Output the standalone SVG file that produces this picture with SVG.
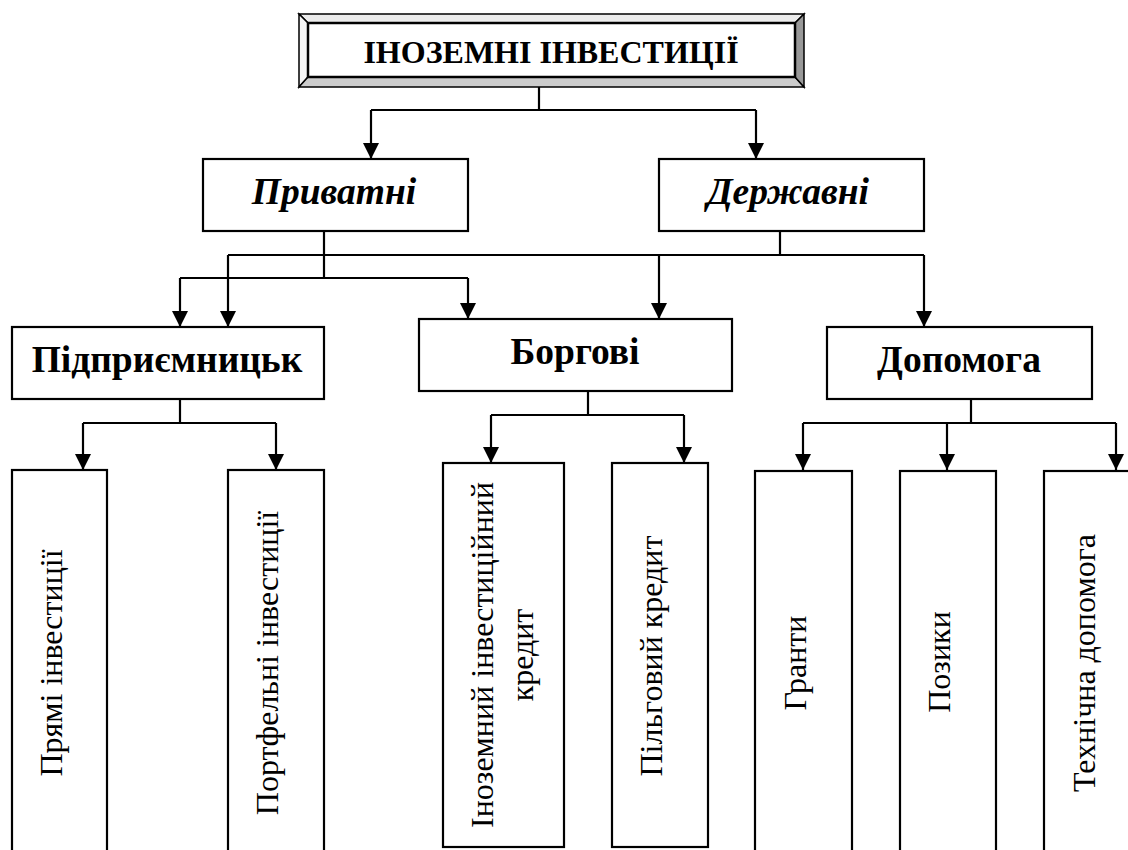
<svg xmlns="http://www.w3.org/2000/svg" width="1128" height="850" viewBox="0 0 1128 850">
<defs>
<style>
.box{fill:#fff;stroke:#000;stroke-width:2.2}
.ln{fill:none;stroke:#000;stroke-width:2.2}
text{font-family:'Liberation Serif','Times New Roman',serif;fill:#000}
.b36{font-size:37.5px;font-weight:bold}
.bi36{font-size:37.5px;font-weight:bold;font-style:italic}
.r32{font-size:32px}
.bev{stroke:#000;stroke-width:1.5}
</style>
<marker id="ah" viewBox="0 0 16 16" refX="16" refY="8" markerWidth="16" markerHeight="16" orient="auto" markerUnits="userSpaceOnUse">
<path d="M0,0 L16,8 L0,16 z" fill="#000"/>
</marker>
</defs>
<rect width="1128" height="850" fill="#fff"/>

<g id="connectors">
<path class="ln" d="M539,87 V110 M371,110 H756"/>
<path class="ln" d="M371,110 V159" marker-end="url(#ah)"/>
<path class="ln" d="M756,110 V159" marker-end="url(#ah)"/>
<path class="ln" d="M324,231 V278 M180,278 H468"/>
<path class="ln" d="M180,278 V327" marker-end="url(#ah)"/>
<path class="ln" d="M468,278 V319" marker-end="url(#ah)"/>
<path class="ln" d="M780,231 V255 M228,255 H924"/>
<path class="ln" d="M228,255 V327" marker-end="url(#ah)"/>
<path class="ln" d="M659,255 V319" marker-end="url(#ah)"/>
<path class="ln" d="M924,255 V327" marker-end="url(#ah)"/>
<path class="ln" d="M180,399 V423 M83,423 H276"/>
<path class="ln" d="M83,423 V470" marker-end="url(#ah)"/>
<path class="ln" d="M276,423 V470" marker-end="url(#ah)"/>
<path class="ln" d="M588,391 V415 M491,415 H684"/>
<path class="ln" d="M491,415 V463" marker-end="url(#ah)"/>
<path class="ln" d="M684,415 V463" marker-end="url(#ah)"/>
<path class="ln" d="M971,399 V423 M803,423 H1116"/>
<path class="ln" d="M803,423 V470" marker-end="url(#ah)"/>
<path class="ln" d="M947,423 V470" marker-end="url(#ah)"/>
<path class="ln" d="M1116,423 V470" marker-end="url(#ah)"/>
</g>

<g id="root">
<polygon class="bev" fill="#ececec" points="299,14 804,14 795,23 308,23"/>
<polygon class="bev" fill="#f4f4f4" points="299,14 308,23 308,77 299,87"/>
<polygon class="bev" fill="#cccccc" points="299,87 308,77 795,77 804,87"/>
<polygon class="bev" fill="#999999" points="804,14 804,87 795,77 795,23"/>
<rect x="308" y="23" width="487" height="54" fill="#fff" stroke="#000" stroke-width="2.5"/>
<text x="551" y="63" text-anchor="middle" font-size="32" font-weight="bold">ІНОЗЕМНІ ІНВЕСТИЦІЇ</text>
</g>

<g id="pryvatni">
<rect class="box" x="203" y="159" width="265" height="72"/>
<text class="bi36" x="334" y="204" text-anchor="middle">Приватні</text>
</g>
<g id="derzhavni">
<rect class="box" x="659" y="159" width="265" height="72"/>
<text class="bi36" x="788" y="204" text-anchor="middle">Державні</text>
</g>

<g id="pidpryiemnytsk">
<rect class="box" x="12" y="327" width="312" height="72"/>
<text class="b36" x="167" y="372" text-anchor="middle">Підприємницьк</text>
</g>
<g id="borhovi">
<rect class="box" x="419" y="319" width="313" height="72"/>
<text class="b36" x="575" y="364" text-anchor="middle">Боргові</text>
</g>
<g id="dopomoha">
<rect class="box" x="827" y="327" width="265" height="72"/>
<text class="b36" x="959" y="372" text-anchor="middle">Допомога</text>
</g>

<g id="priami">
<rect class="box" x="12" y="470" width="95" height="390"/>
<text class="r32" transform="translate(62,663) rotate(-90)" text-anchor="middle">Прямі інвестиції</text>
</g>
<g id="portfelni">
<rect class="box" x="228" y="470" width="96" height="390"/>
<text class="r32" transform="translate(278,663) rotate(-90)" text-anchor="middle">Портфельні інвестиції</text>
</g>
<g id="inozemnyi-kredyt">
<rect class="box" x="443" y="463" width="121" height="384"/>
<text class="r32" transform="translate(493,655) rotate(-90)" text-anchor="middle">Іноземний інвестиційний</text>
<text class="r32" transform="translate(533,655) rotate(-90)" text-anchor="middle">кредит</text>
</g>
<g id="pilhovyi-kredyt">
<rect class="box" x="612" y="463" width="96" height="384"/>
<text class="r32" transform="translate(662,656) rotate(-90)" text-anchor="middle">Пільговий кредит</text>
</g>
<g id="hranty">
<rect class="box" x="755" y="471" width="97" height="390"/>
<text class="r32" transform="translate(806,663) rotate(-90)" text-anchor="middle">Гранти</text>
</g>
<g id="pozyky">
<rect class="box" x="900" y="471" width="96" height="390"/>
<text class="r32" transform="translate(950,662) rotate(-90)" text-anchor="middle">Позики</text>
</g>
<g id="tekhnichna">
<rect class="box" x="1044" y="471" width="96" height="390"/>
<text class="r32" transform="translate(1095,663) rotate(-90)" text-anchor="middle">Технічна допомога</text>
</g>
</svg>
